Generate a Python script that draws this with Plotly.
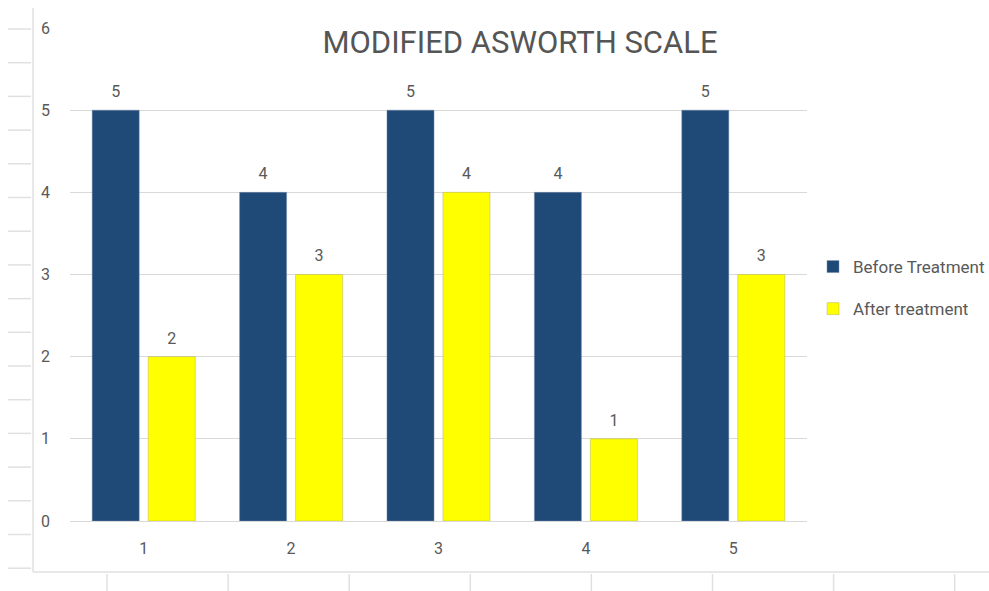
import plotly.graph_objects as go

categories = ["1", "2", "3", "4", "5"]
before_treatment = [5, 4, 5, 4, 5]
after_treatment = [2, 3, 4, 1, 3]
y_ticks = [0, 1, 2, 3, 4, 5, 6]

W, H = 989, 591
L, R, T, B = 70, 807, 28, 521  # plot area in pixels

def px(x):
    return (x - L) / (R - L)

def py(y):
    return (B - y) / (B - T)

GRID = "#d9d9d9"
TXT = "#595959"
FONT = "Roboto"
BAR_GAP = 0.24

series = [
    ("Before Treatment", before_treatment, "#1f4a78", "rgba(120,140,170,0.45)", "a"),
    ("After treatment", after_treatment, "#ffff00", "rgba(170,170,90,0.45)", "b"),
]

fig = go.Figure()
for name, vals, col, edge, grp in series:
    fig.add_trace(go.Bar(
        x=categories, y=vals, name=name,
        marker=dict(color=col, line=dict(color=edge, width=1)),
        offsetgroup=grp, legendgroup=grp,
    ))
for name, vals, col, edge, grp in series:
    fig.add_trace(go.Scatter(
        x=categories, y=vals, mode="markers+text", text=[str(v) for v in vals],
        textposition="top center",
        textfont=dict(family=FONT, size=16, color=TXT),
        marker=dict(size=13, color="rgba(0,0,0,0)"),
        offsetgroup=grp, showlegend=False, hoverinfo="skip", cliponaxis=False,
    ))

shapes = []
line_style = dict(color="#e0e0e0", width=1.5)
shapes.append(dict(type="line", xref="paper", yref="paper",
                   x0=px(33), x1=px(33), y0=py(8), y1=py(572), line=line_style, layer="below"))
shapes.append(dict(type="line", xref="paper", yref="paper",
                   x0=px(33), x1=px(989), y0=py(572), y1=py(572), line=line_style, layer="below"))
for k in range(17):
    yy = 29 + 33.7 * k
    shapes.append(dict(type="line", xref="paper", yref="paper",
                       x0=px(8), x1=px(31), y0=py(yy), y1=py(yy), line=line_style, layer="below"))
for k in range(8):
    xx = 107 + 121.1 * k
    shapes.append(dict(type="line", xref="paper", yref="paper",
                       x0=px(xx), x1=px(xx), y0=py(574), y1=py(591), line=line_style, layer="below"))

fig.update_layout(
    width=W, height=H,
    margin=dict(l=L, r=W - R, t=T, b=H - B, pad=0, autoexpand=False),
    paper_bgcolor="white", plot_bgcolor="white",
    font=dict(family=FONT, color=TXT, size=16),
    barmode="group", bargap=BAR_GAP, bargroupgap=0.16,
    scattermode="group", scattergap=BAR_GAP,
    title=dict(text="MODIFIED ASWORTH SCALE", x=520 / W, xanchor="center",
               y=1 - 42 / H, yanchor="middle",
               font=dict(family=FONT, size=31, color="#555555")),
    xaxis=dict(showgrid=False, showline=False, ticks="", ticklabelstandoff=16,
               tickfont=dict(family=FONT, size=16, color=TXT)),
    yaxis=dict(range=[0, 6], tickvals=y_ticks, showgrid=True, gridcolor=GRID,
               gridwidth=1.2, zeroline=True, zerolinecolor=GRID, zerolinewidth=1.2,
               showline=False, ticks="", ticklabelstandoff=19,
               tickfont=dict(family=FONT, size=16, color=TXT)),
    legend=dict(xref="container", x=813 / W, xanchor="left",
                yref="container", y=1 - 288 / H, yanchor="middle",
                traceorder="grouped", tracegroupgap=17,
                font=dict(family=FONT, size=17, color=TXT),
                bgcolor="rgba(0,0,0,0)", itemwidth=30),
    shapes=shapes,
)

fig.write_html("out.html")
